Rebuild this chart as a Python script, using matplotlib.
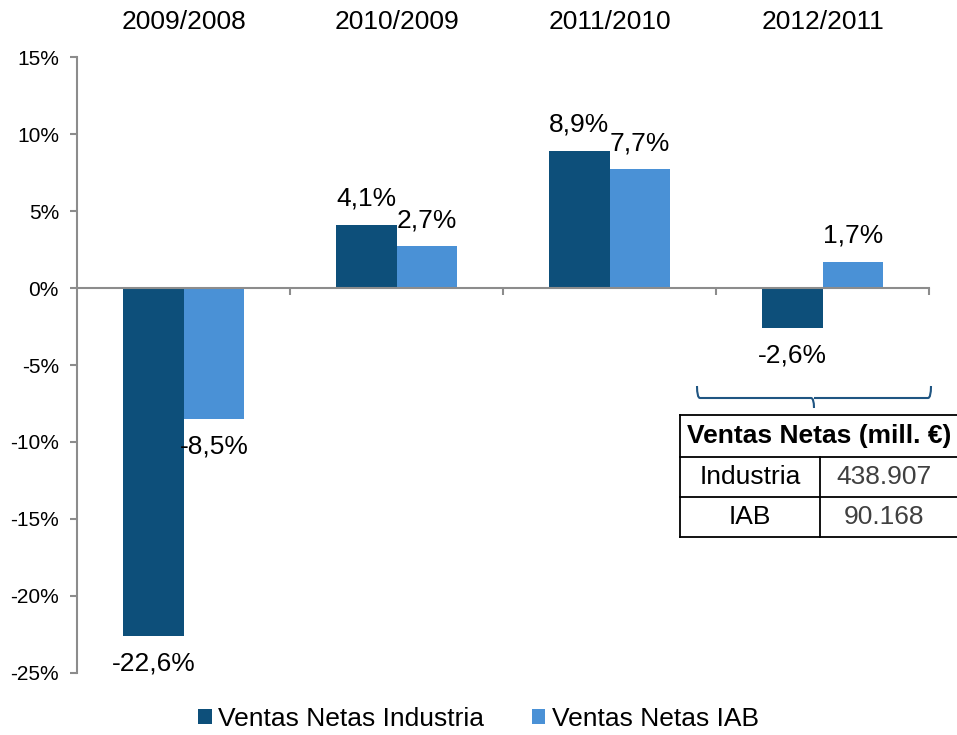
import numpy as np
import matplotlib.pyplot as plt
from matplotlib.lines import Line2D
from matplotlib.path import Path
from matplotlib.patches import PathPatch

plt.rcParams['font.family'] = ['Liberation Sans', 'DejaVu Sans']

periods = ['2009/2008', '2010/2009', '2011/2010', '2012/2011']
industria = [-22.6, 4.1, 8.9, -2.6]
iab = [-8.5, 2.7, 7.7, 1.7]
series_names = ['Ventas Netas Industria', 'Ventas Netas IAB']
table_title = 'Ventas Netas (mill. €)'
table_rows = ['Industria', 'IAB']
table_values = ['438.907', '90.168']

dark = '#0D4F7A'
light = '#4A91D6'
gray = '#8C8C8C'

fig = plt.figure(figsize=(9.57, 7.35), dpi=100)
ax = fig.add_axes([0.0805, 0.0844, 0.8905, 0.838])

x = np.arange(len(periods))
w = 0.284
ax.bar(x - w / 2, industria, w, color=dark, label=series_names[0])
ax.bar(x + w / 2, iab, w, color=light, label=series_names[1])

ax.set_xlim(-0.5, len(periods) - 0.5)
ax.set_ylim(-25, 15)
ax.set_yticks(np.arange(-25, 16, 5))
ax.set_yticklabels([f'{v}%' for v in range(-25, 16, 5)], fontsize=15)
ax.set_xticks(np.arange(0.5, len(periods), 1))
ax.set_xticklabels([])

for s in ['top', 'right']:
    ax.spines[s].set_visible(False)
ax.spines['bottom'].set_position(('data', 0))
for s in ['left', 'bottom']:
    ax.spines[s].set_color(gray)
    ax.spines[s].set_linewidth(1.5)
ax.tick_params(axis='both', direction='out', color=gray, width=1.5, length=5)
ax.tick_params(axis='y', pad=8)

# category labels above the plot
for i, p in enumerate(periods):
    ax.annotate(p, (i, 1), xycoords=('data', 'axes fraction'),
                xytext=(0, 25), textcoords='offset points',
                ha='center', va='center', fontsize=19)

# value labels
def fmt(v):
    return f'{v:.1f}%'.replace('.', ',')

for vals, off in [(industria, -w / 2), (iab, w / 2)]:
    for i, v in enumerate(vals):
        dy = 19 if v >= 0 else -20
        ax.annotate(fmt(v), (i + off, v), xytext=(0, dy), textcoords='offset points',
                    ha='center', va='center', fontsize=19)

# brace over the table
def fx(px):
    return px / 957

def fy(py):
    return 1 - py / 735

brace_color = '#1F5582'
verts = [(fx(697), fy(386)), (fx(697), fy(398)), (fx(700), fy(398)),
         (fx(811), fy(398)), (fx(814), fy(398)), (fx(814), fy(408)),
         (fx(814), fy(398)), (fx(817), fy(398)), (fx(928), fy(398)),
         (fx(931), fy(398)), (fx(931), fy(386))]
codes = [Path.MOVETO, Path.CURVE3, Path.CURVE3, Path.LINETO, Path.CURVE3, Path.CURVE3,
         Path.MOVETO, Path.CURVE3, Path.LINETO, Path.CURVE3, Path.CURVE3]
fig.add_artist(PathPatch(Path(verts, codes), transform=fig.transFigure,
                         fill=False, edgecolor=brace_color, linewidth=1.5))

# table
left, right, top, mid1, mid2, bottom, split = 680, 960, 415, 457, 497, 537, 820
lw = 1.3
for y in [top, mid1, mid2, bottom]:
    fig.add_artist(Line2D([fx(left), fx(right)], [fy(y), fy(y)], color='black', lw=lw))
fig.add_artist(Line2D([fx(left), fx(left)], [fy(top), fy(bottom)], color='black', lw=lw))
fig.add_artist(Line2D([fx(split), fx(split)], [fy(mid1), fy(bottom)], color='black', lw=lw))
fig.text(fx(819), fy((top + mid1) / 2), table_title, ha='center', va='center',
         fontsize=19, fontweight='bold')
for r, (name, val) in enumerate(zip(table_rows, table_values)):
    yc = [(mid1 + mid2) / 2, (mid2 + bottom) / 2][r]
    fig.text(fx(750), fy(yc), name, ha='center', va='center', fontsize=19)
    fig.text(fx(884), fy(yc), val, ha='center', va='center', fontsize=19, color='#404040')

fig.legend(loc='lower center', bbox_to_anchor=(0.5, -0.027), ncol=2, frameon=False,
           fontsize=19, handlelength=0.5, handleheight=0.5, handletextpad=0.25,
           columnspacing=1.8)

fig.savefig('out.png', dpi=100)
